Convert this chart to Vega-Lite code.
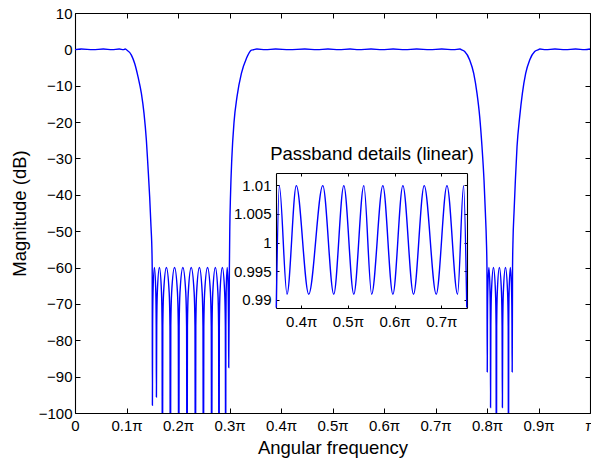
{
  "$schema": "https://vega.github.io/schema/vega-lite/v6.json",
  "width": 515,
  "height": 400,
  "autosize": {"type": "none"},
  "padding": {"left": 75, "top": 13, "right": 1, "bottom": 45},
  "background": "white",
  "config": {
    "view": {"stroke": null},
    "font": "Liberation Sans",
    "axis": {
      "grid": false,
      "labelFont": "Liberation Sans",
      "labelFontSize": 15,
      "labelColor": "#000000",
      "titleFont": "Liberation Sans",
      "titleFontSize": 18.5,
      "titleFontWeight": "normal",
      "titleColor": "#000000",
      "domainColor": "#000000",
      "domainWidth": 1.1,
      "tickColor": "#000000",
      "tickWidth": 1,
      "labelFlush": false,
      "labelOverlap": false,
      "minExtent": 0
    }
  },
  "datasets": {
    "main": [
      {"w": 0, "db": -0.078}, {"w": 0.012, "db": 0.086}, {"w": 0.035, "db": -0.078}, {"w": 0.055, "db": 0.086},
      {"w": 0.072, "db": -0.078}, {"w": 0.086, "db": 0.086}, {"w": 0.094, "db": -0.078}, {"w": 0.0975, "db": 0.086},
      {"w": 0.1, "db": -0.1}, {"w": 0.1095, "db": -1.6}, {"w": 0.1159, "db": -3.9}, {"w": 0.1223, "db": -7.5},
      {"w": 0.1289, "db": -12.1}, {"w": 0.134, "db": -17.6}, {"w": 0.1386, "db": -25}, {"w": 0.1417, "db": -32.3},
      {"w": 0.145, "db": -40.6}, {"w": 0.1476, "db": -48.8}, {"w": 0.1495, "db": -56.1}, {"w": 0.1499, "db": -60},
      {"w": 0.1503, "db": -97.9},
      {"w": 0.15069, "db": -76.1}, {"w": 0.15147, "db": -66.9}, {"w": 0.1542, "db": -60}, {"w": 0.15693, "db": -66.9}, {"w": 0.15771, "db": -76.1},
      {"w": 0.1581, "db": -95.6},
      {"w": 0.15868, "db": -76.1}, {"w": 0.15984, "db": -66.9}, {"w": 0.1639, "db": -60}, {"w": 0.16796, "db": -66.9}, {"w": 0.16912, "db": -76.1},
      {"w": 0.1697, "db": -140},
      {"w": 0.17048, "db": -76.1}, {"w": 0.17203, "db": -66.9}, {"w": 0.17745, "db": -60}, {"w": 0.18288, "db": -66.9}, {"w": 0.18443, "db": -76.1},
      {"w": 0.1852, "db": -140},
      {"w": 0.18601, "db": -76.1}, {"w": 0.18763, "db": -66.9}, {"w": 0.1933, "db": -60}, {"w": 0.19897, "db": -66.9}, {"w": 0.20059, "db": -76.1},
      {"w": 0.2014, "db": -140},
      {"w": 0.20221, "db": -76.1}, {"w": 0.20382, "db": -66.9}, {"w": 0.20945, "db": -60}, {"w": 0.21509, "db": -66.9}, {"w": 0.2167, "db": -76.1},
      {"w": 0.2175, "db": -140},
      {"w": 0.21832, "db": -76.1}, {"w": 0.21995, "db": -66.9}, {"w": 0.22565, "db": -60}, {"w": 0.23136, "db": -66.9}, {"w": 0.23299, "db": -76.1},
      {"w": 0.2338, "db": -140},
      {"w": 0.23458, "db": -76.1}, {"w": 0.23613, "db": -66.9}, {"w": 0.24155, "db": -60}, {"w": 0.24698, "db": -66.9}, {"w": 0.24853, "db": -76.1},
      {"w": 0.2493, "db": -140},
      {"w": 0.25011, "db": -76.1}, {"w": 0.25172, "db": -66.9}, {"w": 0.25735, "db": -60}, {"w": 0.26299, "db": -66.9}, {"w": 0.2646, "db": -76.1},
      {"w": 0.2654, "db": -140},
      {"w": 0.26611, "db": -76.1}, {"w": 0.26753, "db": -66.9}, {"w": 0.2725, "db": -60}, {"w": 0.27747, "db": -66.9}, {"w": 0.27889, "db": -76.1},
      {"w": 0.2796, "db": -140},
      {"w": 0.28025, "db": -76.1}, {"w": 0.28155, "db": -66.9}, {"w": 0.2861, "db": -60}, {"w": 0.29065, "db": -66.9}, {"w": 0.29195, "db": -76.1},
      {"w": 0.2926, "db": -140},
      {"w": 0.2929, "db": -76.1}, {"w": 0.29349, "db": -66.9}, {"w": 0.29555, "db": -60}, {"w": 0.29762, "db": -66.9}, {"w": 0.29821, "db": -76.1},
      {"w": 0.2985, "db": -87.5},
      {"w": 0.2998, "db": -60}, {"w": 0.3005, "db": -50}, {"w": 0.302, "db": -40}, {"w": 0.3045, "db": -30},
      {"w": 0.3088, "db": -20}, {"w": 0.3146, "db": -13}, {"w": 0.3231, "db": -6.6}, {"w": 0.3328, "db": -2.5},
      {"w": 0.3425, "db": -0.2}, {"w": 0.3466, "db": -0.1},
      {"w": 0.3531, "db": 0.086}, {"w": 0.3696, "db": -0.078}, {"w": 0.3895, "db": 0.086}, {"w": 0.4161, "db": -0.078},
      {"w": 0.4462, "db": 0.086}, {"w": 0.4697, "db": -0.078}, {"w": 0.4912, "db": 0.086}, {"w": 0.5126, "db": -0.078},
      {"w": 0.5341, "db": 0.086}, {"w": 0.5508, "db": -0.078}, {"w": 0.5748, "db": 0.086}, {"w": 0.5963, "db": -0.078},
      {"w": 0.6177, "db": 0.086}, {"w": 0.6405, "db": -0.078}, {"w": 0.6634, "db": 0.086}, {"w": 0.6891, "db": -0.078},
      {"w": 0.7121, "db": 0.086}, {"w": 0.7348, "db": -0.078}, {"w": 0.7477, "db": 0.086},
      {"w": 0.75, "db": -0.08}, {"w": 0.7567, "db": -0.6}, {"w": 0.7664, "db": -2.9}, {"w": 0.7742, "db": -6.6},
      {"w": 0.7806, "db": -12.1}, {"w": 0.7858, "db": -18.5}, {"w": 0.7903, "db": -26.8}, {"w": 0.7942, "db": -36},
      {"w": 0.7969, "db": -45.1}, {"w": 0.7988, "db": -52.5}, {"w": 0.7999, "db": -60},
      {"w": 0.8005, "db": -88.7},
      {"w": 0.80082, "db": -76.1}, {"w": 0.80146, "db": -66.9}, {"w": 0.8037, "db": -60}, {"w": 0.80594, "db": -66.9}, {"w": 0.80658, "db": -76.1},
      {"w": 0.8069, "db": -98.5},
      {"w": 0.80747, "db": -76.1}, {"w": 0.8086, "db": -66.9}, {"w": 0.81255, "db": -60}, {"w": 0.81651, "db": -66.9}, {"w": 0.81764, "db": -76.1},
      {"w": 0.8182, "db": -140},
      {"w": 0.81879, "db": -76.1}, {"w": 0.81996, "db": -66.9}, {"w": 0.82405, "db": -60}, {"w": 0.82815, "db": -66.9}, {"w": 0.82932, "db": -76.1},
      {"w": 0.8299, "db": -98.5},
      {"w": 0.8305, "db": -76.1}, {"w": 0.83169, "db": -66.9}, {"w": 0.83585, "db": -60}, {"w": 0.84002, "db": -66.9}, {"w": 0.84121, "db": -76.1},
      {"w": 0.8418, "db": -140},
      {"w": 0.84216, "db": -76.1}, {"w": 0.84287, "db": -66.9}, {"w": 0.84535, "db": -60}, {"w": 0.84784, "db": -66.9}, {"w": 0.84855, "db": -76.1},
      {"w": 0.8489, "db": -88.7},
      {"w": 0.8496, "db": -60}, {"w": 0.8505, "db": -52.5}, {"w": 0.8524, "db": -45.1}, {"w": 0.8551, "db": -36},
      {"w": 0.8583, "db": -26.8}, {"w": 0.8635, "db": -18.5}, {"w": 0.8687, "db": -12.1}, {"w": 0.8751, "db": -6.6},
      {"w": 0.8829, "db": -2.9}, {"w": 0.8926, "db": -0.6}, {"w": 0.9, "db": -0.08}, {"w": 0.9025, "db": 0.086},
      {"w": 0.914, "db": -0.078}, {"w": 0.932, "db": 0.086}, {"w": 0.952, "db": -0.078}, {"w": 0.972, "db": 0.086},
      {"w": 0.99, "db": -0.078}, {"w": 1, "db": 0.086}
    ],
    "inset": [
      {"w": 0.3466, "mag": 0.9887}, {"w": 0.3531, "mag": 1.0099}, {"w": 0.3696, "mag": 0.991}, {"w": 0.3895, "mag": 1.0099},
      {"w": 0.4161, "mag": 0.991}, {"w": 0.4462, "mag": 1.0099}, {"w": 0.4697, "mag": 0.991}, {"w": 0.4912, "mag": 1.0099},
      {"w": 0.5126, "mag": 0.991}, {"w": 0.5341, "mag": 1.0099}, {"w": 0.5508, "mag": 0.991}, {"w": 0.5748, "mag": 1.0099},
      {"w": 0.5963, "mag": 0.991}, {"w": 0.6177, "mag": 1.0099}, {"w": 0.6405, "mag": 0.991}, {"w": 0.6634, "mag": 1.0099},
      {"w": 0.6891, "mag": 0.991}, {"w": 0.7121, "mag": 1.0099}, {"w": 0.7348, "mag": 0.991}, {"w": 0.7477, "mag": 1.0099},
      {"w": 0.7545, "mag": 0.9887}
    ]
  },
  "resolve": {
    "scale": {"x": "independent", "y": "independent"},
    "axis": {"x": "independent", "y": "independent"}
  },
  "layer": [
    {
      "data": {"name": "main"},
      "mark": {"type": "line", "color": "#0000ff", "strokeWidth": 1.4, "interpolate": "monotone", "clip": true},
      "encoding": {
        "x": {
          "field": "w", "type": "quantitative",
          "scale": {"domain": [0, 1], "nice": false, "zero": false},
          "axis": {
            "orient": "bottom", "title": "Angular frequency",
            "values": [0, 0.1, 0.2, 0.3, 0.4, 0.5, 0.6, 0.7, 0.8, 0.9, 1],
            "labelExpr": "datum.value == 0 ? '0' : (datum.value == 1 ? 'π' : format(datum.value, '.1f') + 'π')",
            "tickSize": -5, "labelPadding": 10, "titlePadding": 5
          }
        },
        "y": {
          "field": "db", "type": "quantitative",
          "scale": {"domain": [-100, 10], "nice": false, "zero": false},
          "axis": {
            "orient": "left", "title": "Magnitude (dB)",
            "values": [-100, -90, -80, -70, -60, -50, -40, -30, -20, -10, 0, 10],
            "tickSize": -5, "labelPadding": 8, "titlePadding": 9
          }
        }
      }
    },
    {
      "data": {"name": "main"},
      "mark": {"type": "line", "strokeOpacity": 0},
      "encoding": {
        "x": {
          "field": "w", "type": "quantitative",
          "scale": {"domain": [0, 1], "nice": false, "zero": false},
          "axis": {"orient": "top", "title": null, "labels": false,
                   "values": [0, 0.1, 0.2, 0.3, 0.4, 0.5, 0.6, 0.7, 0.8, 0.9, 1], "tickSize": -5}
        },
        "y": {
          "field": "db", "type": "quantitative",
          "scale": {"domain": [-100, 10], "nice": false, "zero": false},
          "axis": {"orient": "right", "title": null, "labels": false,
                   "values": [-100, -90, -80, -70, -60, -50, -40, -30, -20, -10, 0, 10], "tickSize": -5}
        }
      }
    },
    {
      "data": {"name": "inset"},
      "mark": {"type": "line", "color": "#0000ff", "strokeWidth": 1.4, "interpolate": "monotone"},
      "encoding": {
        "x": {
          "field": "w", "type": "quantitative",
          "scale": {"domain": [0.346, 0.755], "range": [201, 392], "nice": false, "zero": false},
          "axis": {"orient": "bottom", "offset": -105, "title": null,
                   "values": [0.4, 0.5, 0.6, 0.7],
                   "labelExpr": "format(datum.value, '.1f') + 'π'",
                   "tickSize": -3, "labelPadding": 9}
        },
        "y": {
          "field": "mag", "type": "quantitative",
          "scale": {"domain": [0.9886, 1.0121], "range": [295, 160], "nice": false, "zero": false},
          "axis": {"orient": "left", "offset": -201, "title": null,
                   "values": [0.99, 0.995, 1, 1.005, 1.01], "format": "~g",
                   "tickSize": -3, "labelPadding": 8}
        }
      }
    },
    {
      "data": {"name": "inset"},
      "mark": {"type": "line", "strokeOpacity": 0},
      "encoding": {
        "x": {
          "field": "w", "type": "quantitative",
          "scale": {"domain": [0.346, 0.755], "range": [201, 392], "nice": false, "zero": false},
          "axis": {"orient": "top", "offset": -160, "title": "Passband details (linear)", "labels": false,
                   "values": [0.4, 0.5, 0.6, 0.7], "tickSize": -3, "titlePadding": 9}
        },
        "y": {
          "field": "mag", "type": "quantitative",
          "scale": {"domain": [0.9886, 1.0121], "range": [295, 160], "nice": false, "zero": false},
          "axis": {"orient": "right", "offset": -123, "title": null, "labels": false,
                   "values": [0.99, 0.995, 1, 1.005, 1.01], "tickSize": -3}
        }
      }
    }
  ]
}
